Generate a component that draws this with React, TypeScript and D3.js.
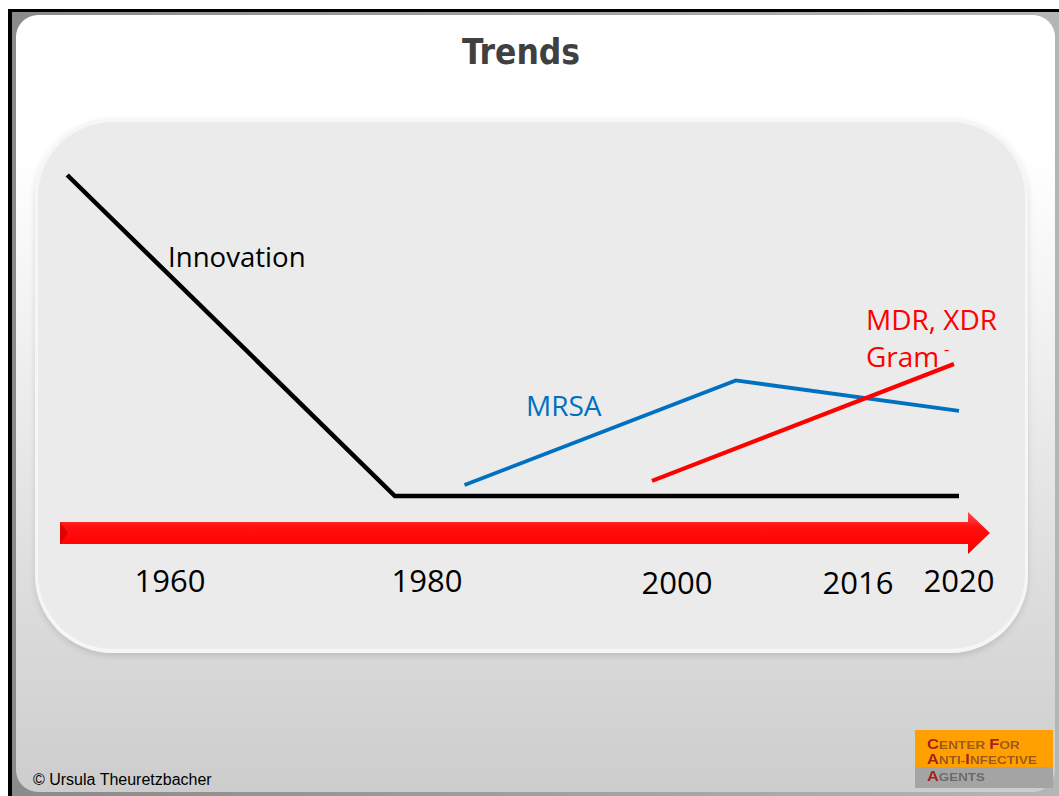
import React from 'react';
import * as d3 from 'd3';

// timeline ticks
const tickYears = [1960, 1980, 2000, 2016, 2020];
const tickLabels = ['1960', '1980', '2000', '2016', '2020'];

// trend lines (value = relative level, 0..100)
const innovationYears = [1952, 1977.5, 2020];
const innovationValues = [100, 0, 0];
const mrsaYears = [1983, 2005.2, 2020];
const mrsaValues = [3.4, 36, 26.5];
const gramYears = [1998, 2019.8];
const gramValues = [4.7, 41.1];

const W = 1059;
const H = 796;

const font = "'Open Sans', 'Noto Sans', sans-serif";

export default function App() {
  // uneven timeline, like the slide
  const x = d3.scaleLinear().domain(tickYears).range([170, 427, 677, 858, 959]);
  const y = d3.scaleLinear().domain([0, 100]).range([496, 175]);

  const toPts = (ys: number[], vs: number[]) => ys.map((yr, i) => [yr, vs[i]] as [number, number]);
  const line = d3.line<[number, number]>().x(d => x(d[0])).y(d => y(d[1]));

  const arrowY0 = 522;
  const arrowY1 = 544;
  const arrowMid = (arrowY0 + arrowY1) / 2;
  const arrowPath = `M60,${arrowY0} L968,${arrowY0} L968,512 L990,${arrowMid} L968,554 L968,${arrowY1} L60,${arrowY1} Z`;

  return (
    <svg width={W} height={H} style={{ position: 'absolute', left: 0, top: 0, display: 'block' }}>
      <defs>
        <linearGradient id="frame" x1="0" x2="1" y1="0" y2="0">
          <stop offset="0" stopColor="#8a8a8a" />
          <stop offset="1" stopColor="#b5b5b5" />
        </linearGradient>
        <linearGradient id="slide" x1="0" x2="0" y1="0" y2="1">
          <stop offset="0" stopColor="#ffffff" />
          <stop offset="0.18" stopColor="#ffffff" />
          <stop offset="1" stopColor="#cdcdcd" />
        </linearGradient>
        <linearGradient id="arrow" x1="0" x2="0" y1="0" y2="1">
          <stop offset="0" stopColor="#ff5050" />
          <stop offset="0.35" stopColor="#ff1010" />
          <stop offset="0.85" stopColor="#ff0000" />
          <stop offset="1" stopColor="#d80000" />
        </linearGradient>
        <filter id="panelShadow" x="-5%" y="-5%" width="110%" height="115%">
          <feDropShadow dx="0" dy="3" stdDeviation="3" floodColor="#000" floodOpacity="0.12" />
        </filter>
        <filter id="soft" x="-5%" y="-20%" width="110%" height="140%">
          <feGaussianBlur stdDeviation="0.6" />
        </filter>
      </defs>

      {/* page / slide frame */}
      <rect x={0} y={0} width={W} height={H} fill="#ffffff" />
      <rect x={12} y={12} width={W - 12} height={H - 12} fill="url(#frame)" />
      <rect x={8} y={9} width={4} height={H - 9} fill="#000" />
      <rect x={8} y={9} width={W - 8} height={3} fill="#000" />
      <rect x={16} y={15} width={1039} height={777} rx={22} fill="url(#slide)" />

      {/* title */}
      <text
        x={521}
        y={64}
        textAnchor="middle"
        fontFamily="'DejaVu Sans Condensed', 'DejaVu Sans', sans-serif"
        fontWeight="bold"
        fontSize={35}
        fill="#404040"
      >
        Trends
      </text>

      {/* inner panel */}
      <g filter="url(#panelShadow)">
        <rect x={35} y={118} width={993} height={535} rx={78} fill="#f6f6f6" />
        <rect x={38} y={122} width={987} height={527} rx={75} fill="#ebebeb" />
      </g>

      {/* timeline arrow */}
      <path d={arrowPath} fill="url(#arrow)" />
      <path d={`M60,${arrowY0} L68,${arrowMid} L60,${arrowY1} Z`} fill="#c00000" opacity={0.6} />

      {tickYears.map((yr, i) => (
        <text
          key={yr}
          x={x(yr)}
          y={i === 2 || i === 3 ? 594 : 592}
          textAnchor="middle"
          fontFamily={font}
          fontSize={31}
          fill="#000"
        >
          {tickLabels[i]}
        </text>
      ))}

      {/* trends */}
      <path d={line(toPts(innovationYears, innovationValues)) || ''} fill="none" stroke="#000" strokeWidth={4.5} />
      <path d={line(toPts(mrsaYears, mrsaValues)) || ''} fill="none" stroke="#0070c0" strokeWidth={3.8} />
      <path d={line(toPts(gramYears, gramValues)) || ''} fill="none" stroke="#ff0000" strokeWidth={4.2} />

      <text x={168} y={267} fontFamily={font} fontSize={27.6} fill="#000">Innovation</text>
      <text x={526} y={416} fontFamily={font} fontSize={28} fill="#0070c0">MRSA</text>
      <text x={866} y={330} fontFamily={font} fontSize={28} fill="#ff0000">MDR, XDR</text>
      <text x={866} y={367} fontFamily={font} fontSize={28} fill="#ff0000">Gram</text>
      <text x={944} y={355} fontFamily={font} fontSize={17} fill="#ff0000">-</text>

      {/* copyright */}
      <text x={33} y={785} fontFamily="'Liberation Sans', Arial, sans-serif" fontSize={16} fill="#000">
        © Ursula Theuretzbacher
      </text>

      {/* logo */}
      <rect x={915} y={730} width={138} height={37} fill="#ffa000" />
      <rect x={915} y={767} width={138} height={21} fill="#a4a4a4" />
      <g fontFamily="'Liberation Sans', Arial, sans-serif" fontWeight="bold" filter="url(#soft)">
        <text x={927} y={749} fontSize={11.5} fill="#9a5a1e" textLength={93} lengthAdjust="spacingAndGlyphs">
          <tspan fontSize={14} fill="#a3241a">C</tspan>ENTER <tspan fontSize={14} fill="#a3241a">F</tspan>OR
        </text>
        <text x={927} y={764} fontSize={11.5} fill="#9a5a1e" textLength={110} lengthAdjust="spacingAndGlyphs">
          <tspan fontSize={14} fill="#a3241a">A</tspan>NTI-<tspan fontSize={14} fill="#a3241a">I</tspan>NFECTIVE
        </text>
        <text x={927} y={781} fontSize={11.5} fill="#6a6a6a" textLength={58} lengthAdjust="spacingAndGlyphs">
          <tspan fontSize={14} fill="#a3241a">A</tspan>GENTS
        </text>
      </g>
    </svg>
  );
}
